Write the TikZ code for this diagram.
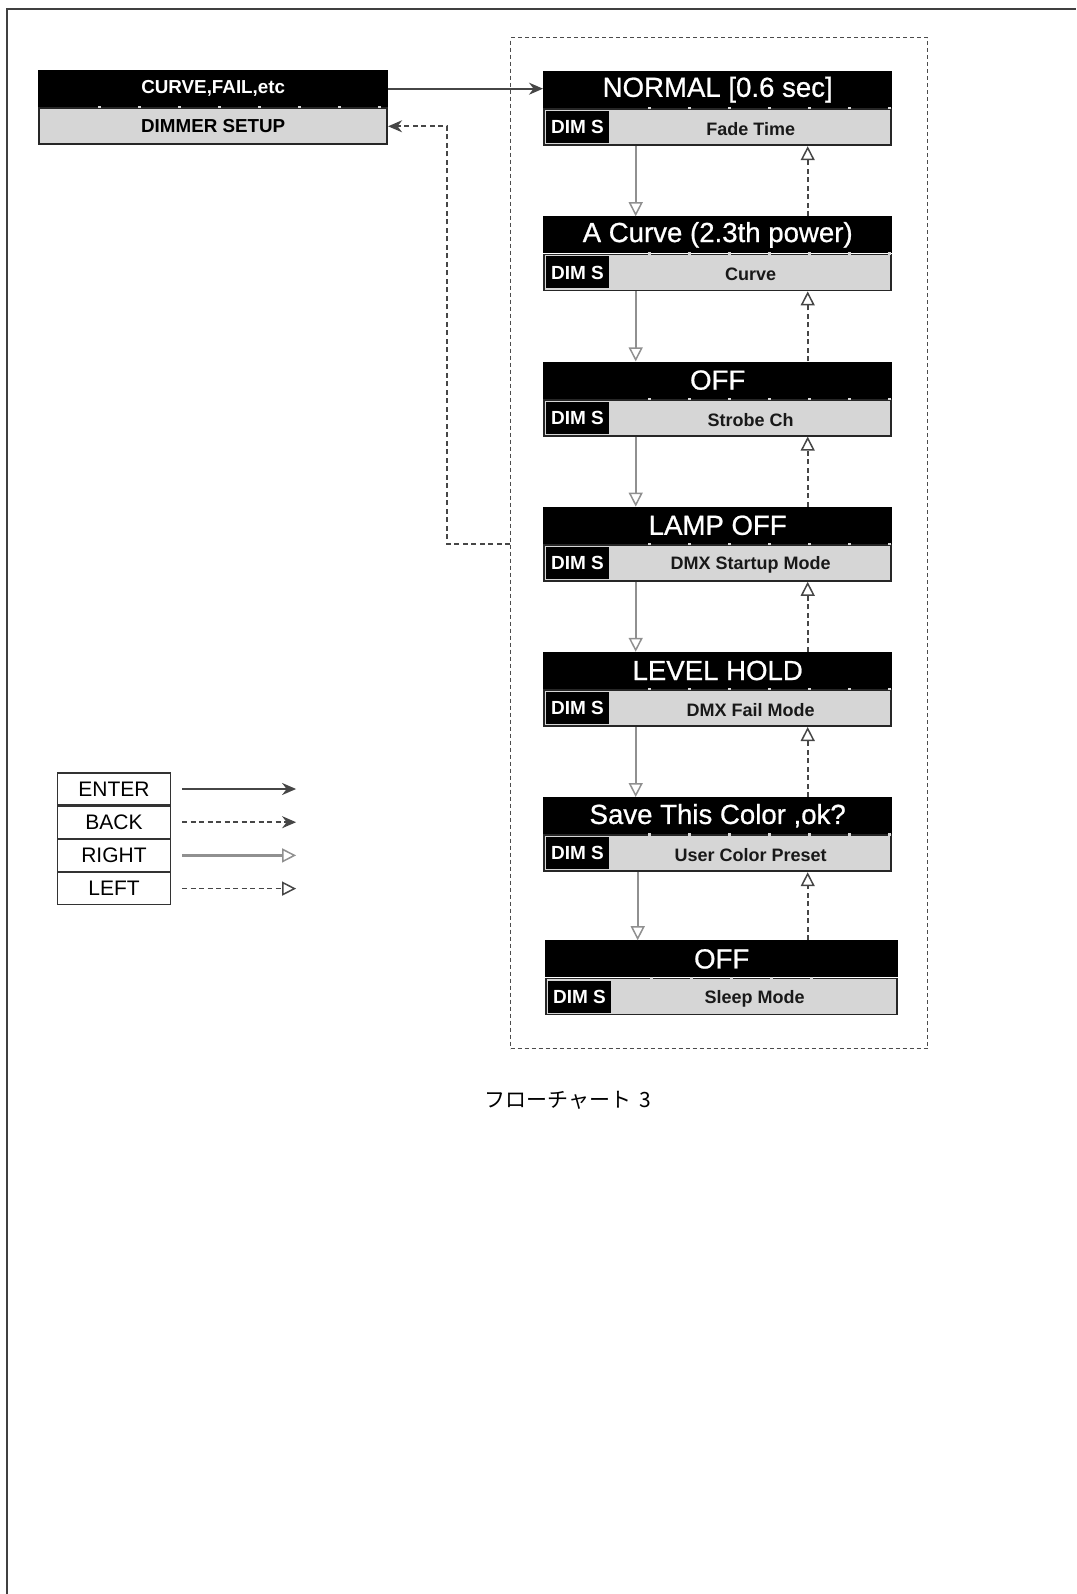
\documentclass[tikz,border=0pt]{standalone}
\usepackage{fontspec}
\setmainfont{Liberation Sans}
\newfontfamily\lcdfont[FakeBold=0.8]{Liberation Sans}
\newfontfamily\cjkfont{Noto Sans CJK JP}
\usepackage{tikz}
\usetikzlibrary{positioning}
\usetikzlibrary{calc}
\usetikzlibrary{arrows.meta}
\definecolor{LcdGray}{RGB}{214,214,214}
\definecolor{ArrGray}{RGB}{70,70,70}

\begin{document}
\begin{tikzpicture}[x=1pt,y=-1pt]

\useasboundingbox (0,0) rectangle (1076,1594);
\begin{scope}[
  ttl/.style={fill=black,text=white,inner sep=0pt,minimum width=349pt,minimum height=37pt,font=\lcdfont\fontsize{27.6}{28}\selectfont},
  sub/.style={fill=LcdGray,draw=black!85,line width=1.8pt,inner sep=0pt,minimum width=347pt,minimum height=36pt},
  dims/.style={fill=black,text=white,inner sep=0pt,minimum width=63pt,minimum height=32pt,font=\bfseries\fontsize{19}{20}\selectfont},
  lbl/.style={text=black!90,inner sep=0pt,font=\bfseries\fontsize{18}{19}\selectfont},
  gaps/.style={draw=LcdGray,line width=2.2pt,dash pattern=on 3pt off 37pt},
  grpbox/.style={draw=black!70,line width=1.3pt,dash pattern=on 4pt off 3pt,inner sep=0pt,minimum width=417pt,minimum height=1011pt},
  keybox/.style={draw=black!80,line width=1.2pt,inner sep=0pt,minimum width=113pt,minimum height=32pt,font=\fontsize{21}{22}\selectfont},
  enterarr/.style={draw=ArrGray,line width=1.8pt,-{Stealth[length=14pt,width=12pt]}},
  backarr/.style={draw=ArrGray,line width=1.6pt,dash pattern=on 5pt off 3.5pt,-{Stealth[length=14pt,width=12pt]}},
  rightarr/.style={draw=ArrGray!60,line width=2.2pt,-{Triangle[open,length=14pt,width=14pt,line width=1.5pt]}},
  leftarr/.style={draw=ArrGray,line width=1.6pt,dash pattern=on 5pt off 3.5pt,-{Triangle[open,length=14pt,width=14pt,line width=1.5pt]}}]

% page frame
\draw[line width=2.5pt,black!75] (7,1594) -- (7,9) -- (1076,9);

% dimmer setup menu
\node[ttl,minimum width=350pt,anchor=north west,font=\bfseries\fontsize{18.8}{20}\selectfont] (cf) at (38,70) {CURVE,FAIL,etc};
\node[sub,minimum width=348pt,below=0pt of cf,font=\bfseries\fontsize{18.8}{20}\selectfont] (dm) {DIMMER SETUP};
\draw[gaps] ([xshift=60pt]dm.north west) -- (dm.north east);

\node[grpbox,anchor=north west] (grp) at (510,37) {};

% sub menu screens
\node[ttl,anchor=north west] (t1) at (543,71) {NORMAL [0.6 sec]};
\node[sub,below=0pt of t1] (s1) {};
\node[dims,anchor=west] (d1) at ([xshift=2.5pt]s1.west) {DIM S};
\node[lbl] (l1) at ($(d1.east)!0.5!(s1.east)+(0,2)$) {Fade Time};
\draw[gaps] ([xshift=105pt]s1.north west) -- (s1.north east);

\node[ttl,below=70pt of s1] (t2) {A Curve (2.3th power)};
\node[sub,below=0pt of t2] (s2) {};
\node[dims,anchor=west] (d2) at ([xshift=2.5pt]s2.west) {DIM S};
\node[lbl] (l2) at ($(d2.east)!0.5!(s2.east)+(0,2)$) {Curve};
\draw[gaps] ([xshift=105pt]s2.north west) -- (s2.north east);

\node[ttl,below=70pt of s2] (t3) {OFF};
\node[sub,below=0pt of t3] (s3) {};
\node[dims,anchor=west] (d3) at ([xshift=2.5pt]s3.west) {DIM S};
\node[lbl] (l3) at ($(d3.east)!0.5!(s3.east)+(0,2)$) {Strobe Ch};
\draw[gaps] ([xshift=105pt]s3.north west) -- (s3.north east);

\node[ttl,below=70pt of s3] (t4) {LAMP OFF};
\node[sub,below=0pt of t4] (s4) {};
\node[dims,anchor=west] (d4) at ([xshift=2.5pt]s4.west) {DIM S};
\node[lbl] (l4) at ($(d4.east)!0.5!(s4.east)+(0,2)$) {DMX Startup Mode};
\draw[gaps] ([xshift=105pt]s4.north west) -- (s4.north east);

\node[ttl,below=70pt of s4] (t5) {LEVEL HOLD};
\node[sub,below=0pt of t5] (s5) {};
\node[dims,anchor=west] (d5) at ([xshift=2.5pt]s5.west) {DIM S};
\node[lbl] (l5) at ($(d5.east)!0.5!(s5.east)+(0,2)$) {DMX Fail Mode};
\draw[gaps] ([xshift=105pt]s5.north west) -- (s5.north east);

\node[ttl,below=70pt of s5] (t6) {Save This Color ,ok?};
\node[sub,below=0pt of t6] (s6) {};
\node[dims,anchor=west] (d6) at ([xshift=2.5pt]s6.west) {DIM S};
\node[lbl] (l6) at ($(d6.east)!0.5!(s6.east)+(0,2)$) {User Color Preset};
\draw[gaps] ([xshift=105pt]s6.north west) -- (s6.north east);

\node[ttl,minimum width=353pt,below=68pt of s6,xshift=4pt] (t7) {OFF};
\node[sub,minimum width=351pt,below=0pt of t7] (s7) {};
\node[dims,anchor=west] (d7) at ([xshift=2.5pt]s7.west) {DIM S};
\node[lbl] (l7) at ($(d7.east)!0.5!(s7.east)+(0,2)$) {Sleep Mode};
\draw[gaps] ([xshift=105pt]s7.north west) -- ([xshift=-60pt]s7.north east);

% enter / back
\draw[enterarr] (cf.east) -- (cf.east -| t1.west);
\draw[backarr] (grp.west |- t4.south) -- ++(-63,0) |- (dm.east);

% right (down) and left (up)
\draw[rightarr] ([xshift=-82pt]s1.south) -- ([xshift=-82pt]s1.south |- t2.north);
\draw[rightarr] ([xshift=-82pt]s2.south) -- ([xshift=-82pt]s2.south |- t3.north);
\draw[rightarr] ([xshift=-82pt]s3.south) -- ([xshift=-82pt]s3.south |- t4.north);
\draw[rightarr] ([xshift=-82pt]s4.south) -- ([xshift=-82pt]s4.south |- t5.north);
\draw[rightarr] ([xshift=-82pt]s5.south) -- ([xshift=-82pt]s5.south |- t6.north);
\draw[rightarr] ([xshift=-80pt]s6.south) -- ([xshift=-80pt]s6.south |- t7.north);
\draw[leftarr] ([xshift=90pt]s1.south |- t2.north) -- ([xshift=90pt]s1.south);
\draw[leftarr] ([xshift=90pt]s2.south |- t3.north) -- ([xshift=90pt]s2.south);
\draw[leftarr] ([xshift=90pt]s3.south |- t4.north) -- ([xshift=90pt]s3.south);
\draw[leftarr] ([xshift=90pt]s4.south |- t5.north) -- ([xshift=90pt]s4.south);
\draw[leftarr] ([xshift=90pt]s5.south |- t6.north) -- ([xshift=90pt]s5.south);
\draw[leftarr] ([xshift=90pt]s6.south |- t7.north) -- ([xshift=90pt]s6.south);

% legend
\node[keybox] (kE) at (114,789) {ENTER};
\node[keybox,below=0pt of kE] (kB) {BACK};
\node[keybox,below=0pt of kB] (kR) {RIGHT};
\node[keybox,below=0pt of kR] (kL) {LEFT};
\draw[enterarr] ([xshift=11pt]kE.east) -- ++(114,0);
\draw[backarr] ([xshift=11pt]kB.east) -- ++(114,0);
\draw[rightarr] ([xshift=11pt]kR.east) -- ++(114,0);
\draw[leftarr] ([xshift=11pt]kL.east) -- ++(114,0);

\node[font=\cjkfont\fontsize{21}{24}\selectfont] (cap) at (568,1100) {フローチャート\hspace{8pt}3};

\end{scope}

\end{tikzpicture}
\end{document}
